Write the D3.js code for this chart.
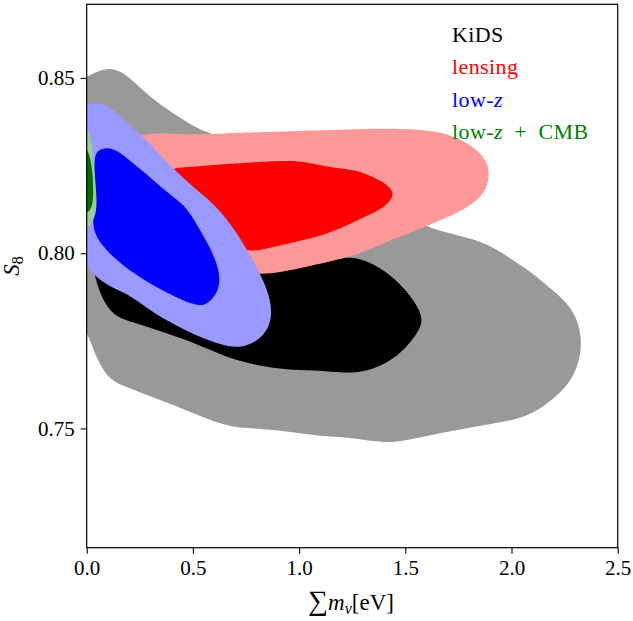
<!DOCTYPE html>
<html lang="en">
<head>
<meta charset="UTF-8">
<title>S8 vs sum m_nu</title>
<script src="https://cdn.jsdelivr.net/npm/d3@7"></script>
<style>
    body { margin: 0; background: #fff; }
    #graphDiv { width: 633px; height: 621px; }
    text { font-family: "Liberation Serif", "DejaVu Serif", serif; }
</style>
<script>
    // contour outlines, [sum m_nu (eV), S8]
    var kidsOuter = [[-0.06, 0.779], [-0.06, 0.849], [-0.02, 0.8495], [0.039, 0.8516], [0.096, 0.8528], [0.147, 0.8522], [0.190, 0.8508],
        [0.298, 0.8445], [0.406, 0.8399], [0.534, 0.8351], [0.595, 0.834], [0.816, 0.829], [1.098, 0.8237], [1.381, 0.8152],
        [1.583, 0.8074], [1.758, 0.805], [1.885, 0.8029], [2.007, 0.798], [2.101, 0.7943], [2.195, 0.7894], [2.30, 0.7837],
        [2.34, 0.7743], [2.30, 0.7646], [2.195, 0.7581], [2.073, 0.7532], [1.946, 0.7518], [1.819, 0.7504], [1.663, 0.7487],
        [1.475, 0.7461], [1.367, 0.7461], [1.240, 0.7475], [1.098, 0.7478], [0.971, 0.749], [0.783, 0.7501], [0.661, 0.7504],
        [0.472, 0.7552], [0.312, 0.7589], [0.190, 0.7618], [0.109, 0.7637], [0.048, 0.7695], [0.006, 0.7772], [-0.02, 0.778]];
    var kidsInner = [[0.030, 0.7966], [0.039, 0.7932], [0.063, 0.7886], [0.096, 0.7846], [0.143, 0.7817], [0.218, 0.7803],
        [0.359, 0.7775], [0.534, 0.7738], [0.689, 0.7695], [0.849, 0.7675], [0.971, 0.7666], [1.098, 0.7666], [1.207, 0.7658],
        [1.320, 0.7661], [1.442, 0.7695], [1.522, 0.7743], [1.575, 0.7789], [1.580, 0.7822], [1.540, 0.7866], [1.475, 0.7914],
        [1.381, 0.796], [1.273, 0.7991], [1.146, 0.7986], [1.004, 0.7974], [0.863, 0.7957], [0.722, 0.7937], [0.534, 0.79],
        [0.298, 0.7914], [0.109, 0.7957]];
    var lensingOuter = [[0.228, 0.8348], [0.486, 0.8337], [0.642, 0.8342], [0.802, 0.8345], [1.112, 0.8351], [1.428, 0.8357],
        [1.630, 0.8351], [1.743, 0.8331], [1.825, 0.8302], [1.882, 0.8265], [1.898, 0.8228], [1.882, 0.818], [1.825, 0.8143],
        [1.743, 0.8114], [1.663, 0.8094], [1.522, 0.8057], [1.428, 0.8037], [1.273, 0.7994], [1.146, 0.7977], [1.004, 0.7957],
        [0.816, 0.7934], [0.675, 0.7957], [0.486, 0.8037], [0.298, 0.8152], [0.180, 0.8294]];
    var lensingInner = [[0.406, 0.8245], [0.486, 0.8245], [0.642, 0.8254], [0.802, 0.826], [0.957, 0.8265], [1.037, 0.826],
        [1.146, 0.8245], [1.273, 0.8237], [1.350, 0.8217], [1.420, 0.8194], [1.445, 0.8172], [1.434, 0.8152], [1.385, 0.8123],
        [1.273, 0.8094], [1.178, 0.8066], [1.084, 0.8046], [0.957, 0.8029], [0.849, 0.8014], [0.759, 0.80], [0.557, 0.8051],
        [0.439, 0.8152], [0.369, 0.8222]];
    var lowzOuter = [[-0.06, 0.842], [-0.03, 0.842], [0.048, 0.8431], [0.096, 0.8422], [0.157, 0.8394], [0.218, 0.8357],
        [0.284, 0.8322], [0.345, 0.828], [0.425, 0.8231], [0.517, 0.818], [0.595, 0.8143], [0.675, 0.8086], [0.736, 0.8029],
        [0.802, 0.796], [0.852, 0.7894], [0.874, 0.7837], [0.860, 0.7789], [0.816, 0.7755], [0.755, 0.7735], [0.675, 0.7729],
        [0.534, 0.776], [0.439, 0.7789], [0.359, 0.7814], [0.284, 0.7843], [0.204, 0.788], [0.124, 0.79], [0.039, 0.7932],
        [0.0, 0.797], [-0.03, 0.797], [-0.06, 0.797]];
    var lowzInner = [[0.034, 0.8265], [0.048, 0.8294], [0.096, 0.8302], [0.143, 0.8294], [0.218, 0.8257], [0.298, 0.8217],
        [0.406, 0.816], [0.472, 0.8131], [0.534, 0.8066], [0.580, 0.8017], [0.616, 0.7966], [0.628, 0.7926], [0.618, 0.7889],
        [0.571, 0.7855], [0.524, 0.7849], [0.439, 0.7869], [0.345, 0.7897], [0.218, 0.7943], [0.124, 0.7989], [0.063, 0.8029],
        [0.030, 0.8066], [0.030, 0.8114], [0.039, 0.8188]];
    var cmbOuter = [[-0.06, 0.8351], [-0.02, 0.8351], [0.006, 0.8351], [0.016, 0.8342], [0.030, 0.8285], [0.039, 0.8217],
        [0.048, 0.8152], [0.044, 0.8114], [0.025, 0.8086], [0.010, 0.8071], [-0.02, 0.807], [-0.06, 0.807]];
    var cmbInner = [[-0.06, 0.8299], [-0.02, 0.8299], [0.0, 0.8299], [0.016, 0.8277], [0.031, 0.8217], [0.031, 0.8143],
        [0.016, 0.8123], [0.0, 0.8114], [-0.02, 0.8114], [-0.06, 0.8114]];

    var contourNames = ["KiDS", "lensing", "low-z", "low-z + CMB"];
    var contourSets = [[kidsOuter, kidsInner], [lensingOuter, lensingInner], [lowzOuter, lowzInner], [cmbOuter, cmbInner]];
    var fillColors = [["#999999", "#000000"], ["#ff9999", "#ff0000"], ["#9999ff", "#0000ff"], ["#99cc99", "#007000"]];
    var labelColors = ["#000000", "#ff0000", "#0000ff", "#008000"];

    var xTicks = [0.0, 0.5, 1.0, 1.5, 2.0, 2.5];
    var yTicks = [0.75, 0.80, 0.85];

    function drawChart() {
        var selector = "#graphDiv";
        var w0 = 633, h0 = 621;
        var x = d3.scaleLinear().domain([0, 2.5]).range([86.7, 617.7]);
        var y = d3.scaleLinear().domain([0.716, 0.871]).range([547.7, 4.3]);

        var svg = d3.select(selector).append("svg")
            .attr("width", w0)
            .attr("height", h0);

        svg.append("clipPath").attr("id", "plotClip")
            .append("rect")
            .attr("x", x(0)).attr("y", y(0.871))
            .attr("width", x(2.5) - x(0)).attr("height", y(0.716) - y(0.871));

        var line = d3.line()
            .x(function (d) { return x(d[0]); })
            .y(function (d) { return y(d[1]); })
            .curve(d3.curveBasisClosed);

        var g = svg.append("g").attr("clip-path", "url(#plotClip)");
        contourSets.forEach(function (set, i) {
            set.forEach(function (poly, j) {
                g.append("path")
                    .attr("d", line(poly))
                    .style("fill", fillColors[i][j])
                    .style("stroke", "none");
            });
        });

        // frame
        svg.append("rect")
            .attr("x", x(0)).attr("y", y(0.871))
            .attr("width", x(2.5) - x(0)).attr("height", y(0.716) - y(0.871))
            .style("fill", "none").style("stroke", "#000").style("stroke-width", 1.2);

        var xAxis = svg.append("g")
            .attr("transform", "translate(0," + y(0.716) + ")")
            .call(d3.axisBottom(x).tickValues(xTicks).tickFormat(d3.format(".1f")).tickSizeOuter(0).tickSize(6).tickPadding(6));
        var yAxis = svg.append("g")
            .attr("transform", "translate(" + x(0) + ",0)")
            .call(d3.axisLeft(y).tickValues(yTicks).tickFormat(d3.format(".2f")).tickSizeOuter(0).tickSize(6).tickPadding(6));

        [xAxis, yAxis].forEach(function (a) {
            a.attr("font-family", null);
            a.select(".domain").remove();
            a.selectAll("line").style("stroke", "#000").style("stroke-width", 1.1);
            a.selectAll("text")
                .style("font-family", "'Liberation Serif', 'DejaVu Serif', serif")
                .style("font-size", "21px")
                .style("fill", "#000");
        });

        // legend text
        svg.selectAll("text.lab")
            .data(contourNames).enter().append("text")
            .attr("class", "lab")
            .attr("x", 452)
            .attr("y", function (d, i) { return 42 + i * 32.3; })
            .style("font-size", "22px")
            .style("letter-spacing", "0.4px")
            .style("fill", function (d, i) { return labelColors[i]; })
            .each(function (d) {
                var t = d3.select(this);
                var parts = d.split("z");
                parts.forEach(function (p, k) {
                    if (k > 0) t.append("tspan").style("font-style", "italic").text("z");
                    if (p) t.append("tspan").text(p.replace(/ /g, "\u2002"));
                });
            });

        // axis labels
        var xl = svg.append("text")
            .attr("x", 351).attr("y", 610)
            .attr("text-anchor", "middle")
            .style("font-size", "23px");
        xl.append("tspan").style("font-size", "28px").text("\u2211");
        xl.append("tspan").style("font-style", "italic").text("m");
        xl.append("tspan").style("font-style", "italic").style("font-size", "16px").attr("dy", 4).text("\u03bd");
        xl.append("tspan").attr("dy", -4).text("[eV]");

        var yl = svg.append("text")
            .attr("transform", "translate(19,266) rotate(-90)")
            .attr("text-anchor", "middle")
            .style("font-size", "23px");
        yl.append("tspan").style("font-style", "italic").text("S");
        yl.append("tspan").style("font-size", "16px").attr("dy", 4).text("8");
    }
</script>
</head>
<body>
<div id="graphDiv"></div>
<script>drawChart();</script>
</body>
</html>
